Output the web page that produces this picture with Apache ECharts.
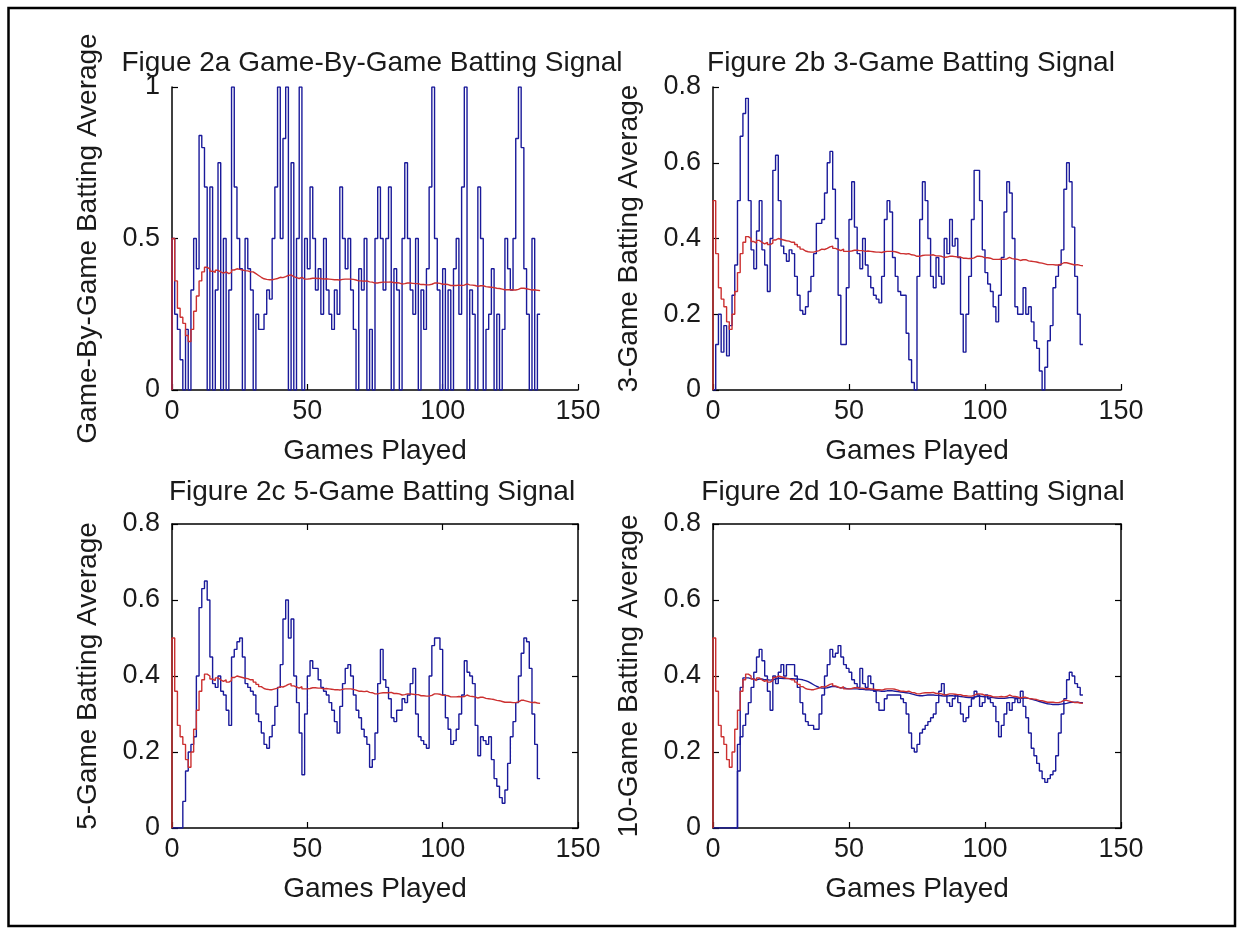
<!DOCTYPE html>
<html><head><meta charset="utf-8">
<script src="https://cdn.jsdelivr.net/npm/echarts/dist/echarts.min.js"></script>
<style>html,body{margin:0;padding:0;background:#fff}#c{width:1243px;height:928px}</style>
</head><body><div id="c"></div>
<script>
// x values: games 0..136
const games = Array.from({length: 137}, (_, i) => i);
const xTicks = [0, 50, 100, 150];

// cumulative batting average (red, same in every panel)
const cumAvg = [0,
0.5,0.36,0.27,0.24,0.22,0.18,0.16,0.2,0.26,0.31,
0.36,0.39,0.405,0.4,0.392,0.388,0.395,0.39,0.386,0.39,
0.384,0.388,0.396,0.4,0.398,0.396,0.394,0.393,0.39,0.39,
0.384,0.378,0.372,0.367,0.365,0.364,0.364,0.366,0.368,0.372,
0.371,0.374,0.378,0.38,0.374,0.371,0.368,0.372,0.366,0.366,
0.367,0.369,0.369,0.368,0.368,0.366,0.367,0.366,0.365,0.364,
0.364,0.363,0.365,0.366,0.366,0.366,0.365,0.363,0.36,0.36,
0.359,0.36,0.357,0.356,0.353,0.353,0.355,0.356,0.356,0.356,
0.357,0.354,0.354,0.353,0.35,0.351,0.353,0.353,0.352,0.351,
0.351,0.348,0.348,0.347,0.347,0.349,0.353,0.353,0.352,0.349,
0.349,0.348,0.345,0.345,0.345,0.346,0.345,0.346,0.35,0.347,
0.346,0.345,0.342,0.344,0.344,0.341,0.34,0.339,0.338,0.336,
0.335,0.333,0.331,0.331,0.331,0.33,0.33,0.332,0.336,0.336,
0.334,0.332,0.33,0.331,0.329,0.328];

// game-by-game batting average
const signal1 = [0,
0.5,0.25,0.2,0.1,0,0.2,0,0.33,0.5,0.4,
0.84,0.8,0.67,0,0.67,0,0.33,0.75,0,0.5,
0,0.33,1,0.67,0.5,0.4,0,0.5,0.4,0.33,
0,0.25,0.2,0.2,0.25,0.33,0.3,0.5,0.67,1,
0.5,0.83,1,0,0.75,0,0.5,1,0,0.5,
0.4,0.67,0.5,0.33,0.4,0.25,0.5,0.33,0.25,0.2,
0.33,0.25,0.67,0.5,0.4,0.5,0.33,0.2,0,0.4,
0.33,0.5,0,0.2,0,0.5,0.67,0.5,0.33,0.5,
0.67,0,0.4,0.33,0,0.5,0.75,0.5,0.33,0.25,
0.5,0,0.33,0.2,0.4,0.67,1,0.5,0.33,0,
0.4,0,0.33,0,0.4,0.5,0.25,0.67,1,0,
0.33,0.25,0,0.67,0.5,0,0.2,0.25,0.4,0,
0.25,0,0.2,0.5,0.4,0.33,0.5,0.83,1,0.8,
0.4,0.25,0,0.5,0,0.25];

// 3-game batting average
const signal3 = [0,
0,0.12,0.2,0.1,0.17,0.09,0.17,0.25,0.33,0.5,
0.67,0.73,0.77,0.5,0.37,0.32,0.42,0.5,0.37,0.33,
0.26,0.4,0.58,0.62,0.5,0.38,0.36,0.34,0.37,0.36,
0.3,0.25,0.21,0.2,0.22,0.26,0.3,0.36,0.44,0.44,
0.45,0.52,0.6,0.63,0.53,0.4,0.25,0.12,0.12,0.27,
0.45,0.55,0.43,0.36,0.32,0.4,0.33,0.3,0.27,0.25,
0.24,0.23,0.3,0.45,0.5,0.47,0.35,0.3,0.26,0.25,
0.25,0.15,0.08,0.02,0,0.3,0.45,0.55,0.5,0.4,
0.3,0.27,0.35,0.3,0.28,0.4,0.36,0.45,0.38,0.4,
0.35,0.2,0.1,0.2,0.3,0.45,0.58,0.58,0.5,0.37,
0.31,0.28,0.26,0.22,0.18,0.25,0.35,0.47,0.55,0.52,
0.4,0.22,0.2,0.2,0.27,0.2,0.22,0.18,0.13,0.11,
0.05,0,0.06,0.13,0.17,0.27,0.3,0.33,0.37,0.53,
0.6,0.55,0.43,0.3,0.2,0.12];

// 5-game batting average
const signal5 = [0,
0,0,0,0,0.07,0.15,0.2,0.22,0.24,0.4,
0.58,0.63,0.65,0.6,0.45,0.38,0.37,0.4,0.36,0.35,
0.31,0.27,0.45,0.47,0.49,0.5,0.45,0.38,0.37,0.36,
0.35,0.3,0.28,0.25,0.22,0.21,0.24,0.27,0.32,0.37,
0.43,0.55,0.6,0.5,0.55,0.4,0.33,0.25,0.14,0.3,
0.4,0.44,0.42,0.42,0.39,0.37,0.36,0.35,0.33,0.31,
0.28,0.25,0.32,0.38,0.42,0.43,0.4,0.35,0.31,0.29,
0.26,0.24,0.22,0.16,0.18,0.25,0.38,0.47,0.39,0.37,
0.34,0.29,0.28,0.31,0.31,0.34,0.33,0.35,0.38,0.42,
0.3,0.24,0.23,0.22,0.21,0.4,0.48,0.5,0.5,0.47,
0.35,0.29,0.26,0.22,0.23,0.26,0.3,0.35,0.44,0.41,
0.4,0.38,0.27,0.19,0.24,0.23,0.22,0.24,0.18,0.13,
0.11,0.08,0.065,0.1,0.17,0.24,0.28,0.33,0.4,0.46,
0.5,0.49,0.42,0.3,0.22,0.13];

// 10-game batting average
const signal10 = [0,
0,0,0,0,0,0,0,0,0,0.15,
0.24,0.27,0.3,0.33,0.37,0.41,0.45,0.47,0.44,0.4,
0.36,0.31,0.4,0.38,0.41,0.43,0.4,0.43,0.43,0.43,
0.4,0.37,0.33,0.3,0.28,0.27,0.27,0.26,0.26,0.3,
0.35,0.4,0.43,0.47,0.45,0.46,0.48,0.45,0.43,0.42,
0.41,0.39,0.38,0.37,0.42,0.38,0.37,0.4,0.38,0.36,
0.33,0.31,0.31,0.34,0.35,0.35,0.35,0.35,0.35,0.34,
0.33,0.3,0.25,0.21,0.2,0.22,0.25,0.26,0.27,0.28,
0.29,0.3,0.33,0.36,0.38,0.35,0.33,0.32,0.34,0.35,
0.33,0.3,0.28,0.29,0.32,0.34,0.36,0.35,0.32,0.33,
0.35,0.34,0.33,0.32,0.28,0.24,0.27,0.3,0.33,0.31,
0.33,0.34,0.33,0.36,0.32,0.29,0.25,0.21,0.19,0.17,
0.15,0.13,0.12,0.13,0.14,0.15,0.19,0.25,0.3,0.34,
0.39,0.41,0.4,0.38,0.37,0.35];

// dark running line under the red one in panel d
const cum10 = [null,null,null,null,null,null,null,null,null,0,0.22,
0.37,0.395,0.395,0.393,0.392,0.39,0.392,0.392,0.39,0.39,
0.389,0.39,0.392,0.394,0.394,0.393,0.393,0.393,0.393,0.392,
0.392,0.391,0.39,0.388,0.385,0.381,0.377,0.373,0.37,0.368,
0.368,0.369,0.371,0.373,0.372,0.37,0.369,0.369,0.367,0.366,
0.366,0.366,0.366,0.365,0.365,0.364,0.364,0.363,0.363,0.362,
0.361,0.36,0.36,0.361,0.361,0.361,0.36,0.359,0.358,0.357,
0.356,0.355,0.353,0.351,0.349,0.348,0.348,0.349,0.35,0.35,
0.35,0.349,0.349,0.348,0.347,0.347,0.348,0.348,0.347,0.347,
0.346,0.345,0.344,0.343,0.343,0.344,0.346,0.347,0.346,0.345,
0.345,0.344,0.343,0.342,0.341,0.341,0.341,0.342,0.343,0.343,
0.342,0.342,0.341,0.342,0.342,0.341,0.339,0.337,0.335,0.333,
0.331,0.329,0.327,0.326,0.325,0.325,0.325,0.326,0.327,0.328,
0.33,0.331,0.331,0.331,0.33,0.33];

const titles = ['Figue 2a Game-By-Game Batting Signal','Figure 2b 3-Game Batting Signal','Figure 2c 5-Game Batting Signal','Figure 2d 10-Game Batting Signal'];
const yNames = ['Game-By-Game Batting Average','3-Game Batting Average','5-Game Batting Average','10-Game Batting Average'];
const xName = 'Games Played';
const yTicksA = [0, 0.5, 1];
const yTicksB = [0, 0.2, 0.4, 0.6, 0.8];

const FONT = '"Liberation Sans", Arial, Helvetica, sans-serif';
const TXT = '#1a1a1a';
const BLUE = '#1a1a9a';
const RED = '#cc3030';

const layouts = [
  {left:172, top:87, width:406, height:303, box:false, yt:yTicksA, sig:signal1},
  {left:713, top:87, width:408, height:303, box:false, yt:yTicksB, sig:signal3},
  {left:172, top:524, width:406, height:304, box:true, yt:yTicksB, sig:signal5},
  {left:713, top:524, width:408, height:304, box:true, yt:yTicksB, sig:signal10}
];

const grid = [], xAxis = [], yAxis = [], series = [], graphic = [];
const axisLine = {show:true, onZero:false, lineStyle:{color:'#000', width:1.5}};
const axisTick = {show:true, inside:true, length:6, lineStyle:{color:'#000', width:1.2}};

layouts.forEach((p, i) => {
  grid.push({left:p.left, top:p.top, width:p.width, height:p.height, containLabel:false});
  const yMax = p.yt[p.yt.length-1], yInt = p.yt[1]-p.yt[0];
  const xi = xAxis.length, yi = yAxis.length;
  xAxis.push({gridIndex:i, type:'value', position:'bottom', min:xTicks[0], max:xTicks[xTicks.length-1], interval:xTicks[1]-xTicks[0],
    name:xName, nameLocation:'middle', nameGap:47,
    nameTextStyle:{fontSize:28, color:TXT, fontFamily:FONT},
    axisLine, axisTick, splitLine:{show:false},
    axisLabel:{fontSize:27, margin:8, color:TXT, fontFamily:FONT}});
  yAxis.push({gridIndex:i, type:'value', position:'left', min:0, max:yMax, interval:yInt,
    name:yNames[i], nameLocation:'middle', nameGap:70, nameRotate:90,
    nameTextStyle:{fontSize:28, color:TXT, fontFamily:FONT},
    axisLine, axisTick, splitLine:{show:false},
    axisLabel:{fontSize:27, margin:12, color:TXT, fontFamily:FONT}});
  if (p.box) {
    xAxis.push({gridIndex:i, type:'value', position:'top', min:xTicks[0], max:xTicks[xTicks.length-1], interval:xTicks[1]-xTicks[0],
      axisLine, axisTick, axisLabel:{show:false}, splitLine:{show:false}});
    yAxis.push({gridIndex:i, type:'value', position:'right', min:0, max:yMax, interval:yInt,
      axisLine, axisTick, axisLabel:{show:false}, splitLine:{show:false}});
  }
  series.push({type:'line', xAxisIndex:xi, yAxisIndex:yi, step:'start', showSymbol:false, symbol:'none',
    lineStyle:{color:BLUE, width:1.4}, data:games.map((g, j) => [g, p.sig[j]]), z:2});
  if (i === 3) {
    series.push({type:'line', xAxisIndex:xi, yAxisIndex:yi, step:'start', showSymbol:false, symbol:'none',
      lineStyle:{color:BLUE, width:1.4}, data:games.map((g, j) => [g, cum10[j]]), z:3});
  }
  series.push({type:'line', xAxisIndex:xi, yAxisIndex:yi, step:'start', showSymbol:false, symbol:'none',
    lineStyle:{color:RED, width:1.4}, data:games.map((g, j) => [g, cumAvg[j]]), z:4});
});

const titlePos = [[372, 63], [911, 63], [372, 492], [913, 492]];
titles.forEach((t, i) => {
  graphic.push({type:'text', x:titlePos[i][0], y:titlePos[i][1],
    style:{text:t, font:'28px ' + FONT, fill:TXT, textAlign:'center', align:'center', textVerticalAlign:'middle', verticalAlign:'middle'}});
});
graphic.push({type:'rect', shape:{x:8.5, y:8, width:1226.5, height:918}, style:{fill:'none', stroke:'#000', lineWidth:2.5}, z:100});

const chart = echarts.init(document.getElementById('c'), null, {renderer:'canvas'});
chart.setOption({backgroundColor:'#fff', animation:false, grid, xAxis, yAxis, series, graphic});
</script></body></html>
